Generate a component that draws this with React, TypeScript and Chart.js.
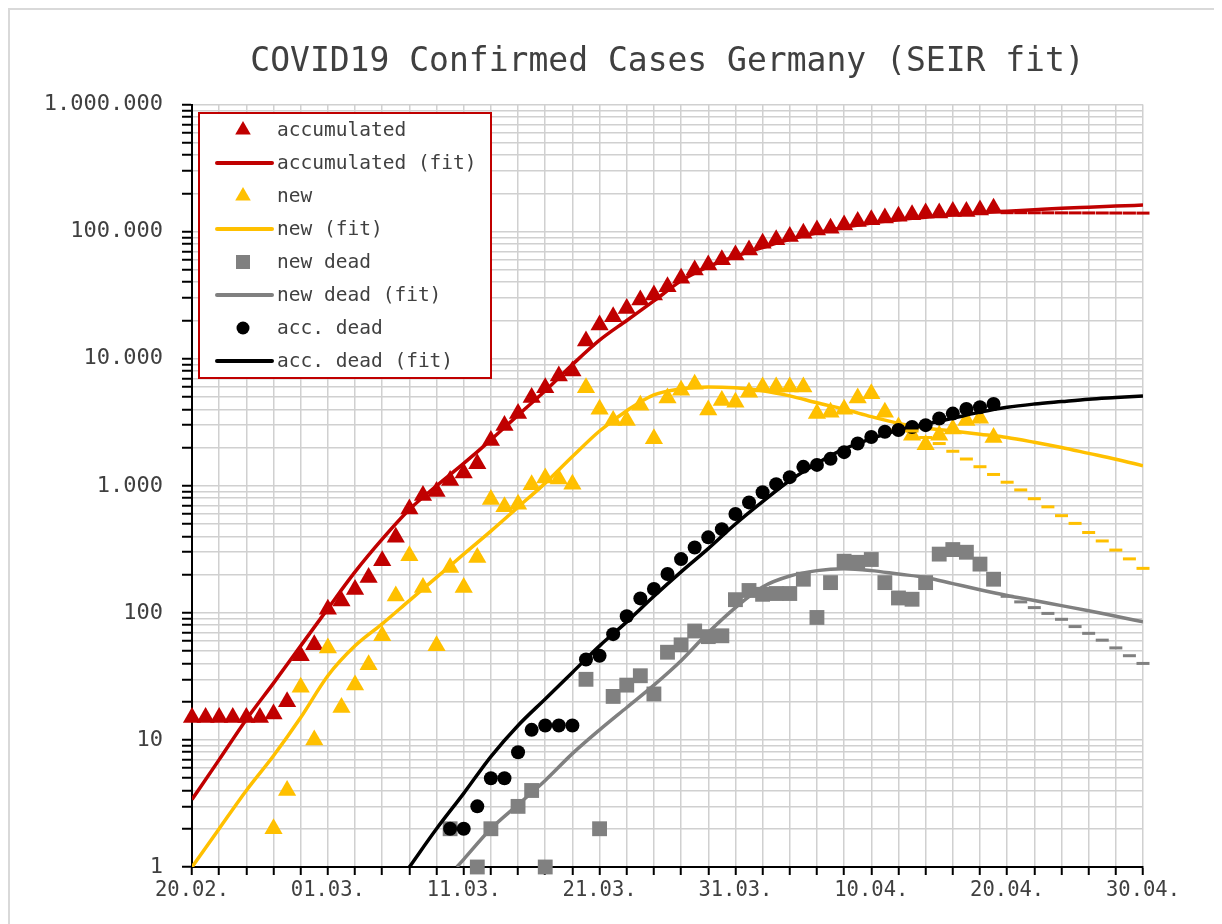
import React, { useEffect, useRef } from 'react';
import { Chart, registerables } from 'chart.js';

Chart.register(...registerables);

const FONT = '"DejaVu Sans Mono", monospace';
const TEXT = '#404040';
const RED = '#c00000';
const YELLOW = '#ffc000';
const GRAY = '#808080';
const BLACK = '#000000';

// ---- axes ----
const xLabelDays = [0, 10, 20, 30, 40, 50, 60, 70];
const xTickLabels = ['20.02.', '01.03.', '11.03.', '21.03.', '31.03.', '10.04.', '20.04.', '30.04.'];
const yDecades = [1, 10, 100, 1000, 10000, 100000, 1000000];
const yTickLabels = ['1', '10', '100', '1.000', '10.000', '100.000', '1.000.000'];
const yMinorMultipliers = [2, 3, 4, 5, 6, 7, 8, 9];

// ---- observed ----
const accDays = [0, 1, 2, 3, 4, 5, 6, 7, 8, 9, 10, 11, 12, 13, 14, 15, 16, 17, 18, 19, 20, 21, 22, 23, 24, 25, 26, 27, 28, 29, 30, 31, 32, 33, 34, 35, 36, 37, 38, 39, 40, 41, 42, 43, 44, 45, 46, 47, 48, 49, 50, 51, 52, 53, 54, 55, 56, 57, 58, 59];
const accValues = [15, 15, 15, 15, 15, 15, 16, 20, 46, 56, 107, 124, 153, 190, 257, 393, 657, 837, 900, 1100, 1260, 1489, 2270, 2980, 3700, 4950, 5900, 7300, 8000, 13800, 18400, 21400, 24900, 29000, 31700, 36900, 43000, 50000, 54700, 60000, 65600, 71800, 81100, 86200, 91600, 97300, 103000, 106600, 113000, 120000, 124000, 128000, 132000, 136000, 140000, 140000, 144000, 144000, 148000, 153000];

const newDays = [6, 7, 8, 9, 10, 11, 12, 13, 14, 15, 16, 17, 18, 19, 20, 21, 22, 23, 24, 25, 26, 27, 28, 29, 30, 31, 32, 33, 34, 35, 36, 37, 38, 39, 40, 41, 42, 43, 44, 45, 46, 47, 48, 49, 50, 51, 52, 53, 54, 55, 56, 57, 58, 59];
const newValues = [2, 4, 26, 10, 53, 18, 27, 39, 66, 136, 281, 158, 55, 228, 158, 273, 780, 685, 715, 1020, 1150, 1130, 1030, 5900, 4000, 3270, 3270, 4300, 2350, 4900, 5650, 6300, 3950, 4700, 4550, 5450, 6000, 6000, 6000, 6000, 3700, 3800, 4000, 4900, 5300, 3800, 2900, 2500, 2100, 2500, 2800, 3270, 3400, 2400];

const newDeadDays = [19, 21, 22, 24, 25, 26, 29, 30, 31, 32, 33, 34, 35, 36, 37, 38, 39, 40, 41, 42, 43, 44, 45, 46, 47, 48, 49, 50, 51, 52, 53, 54, 55, 56, 57, 58, 59];
const newDeadValues = [2, 1, 2, 3, 4, 1, 30, 2, 22, 27, 32, 23, 49, 56, 72, 65, 66, 127, 150, 140, 142, 142, 184, 92, 173, 255, 250, 263, 173, 131, 128, 173, 290, 315, 300, 242, 184];

const accDeadDays = [19, 20, 21, 22, 23, 24, 25, 26, 27, 28, 29, 30, 31, 32, 33, 34, 35, 36, 37, 38, 39, 40, 41, 42, 43, 44, 45, 46, 47, 48, 49, 50, 51, 52, 53, 54, 55, 56, 57, 58, 59];
const accDeadValues = [2, 2, 3, 5, 5, 8, 12, 13, 13, 13, 43, 46, 68, 94, 130, 154, 202, 265, 327, 393, 456, 600, 740, 890, 1030, 1170, 1410, 1460, 1630, 1840, 2150, 2420, 2660, 2750, 2900, 3000, 3390, 3700, 4020, 4150, 4400];

// ---- fits ----
const fitDays = [0, 2, 4, 6, 8, 10, 12, 14, 16, 18, 20, 22, 24, 26, 28, 30, 32, 34, 36, 38, 40, 42, 44, 46, 48, 50, 52, 54, 56, 58, 60, 62, 64, 66, 68, 70];
const accFitValues = [3.4, 7, 14.5, 28, 55, 108, 210, 380, 650, 1000, 1500, 2300, 3600, 5600, 9000, 14000, 20000, 28500, 41000, 53000, 64000, 75000, 87000, 98000, 108000, 117000, 124000, 130000, 136000, 141000, 145000, 149000, 153000, 156000, 159000, 162000];
const newFitValues = [1, 2, 4, 7.5, 15, 32, 55, 82, 125, 190, 290, 440, 680, 1050, 1700, 2700, 3900, 5200, 5800, 6000, 5900, 5600, 5100, 4500, 4000, 3500, 3100, 2850, 2700, 2550, 2400, 2200, 2000, 1800, 1620, 1440];
const accDeadFitDays = [16, 18, 20, 22, 24, 26, 28, 30, 32, 34, 36, 38, 40, 42, 44, 46, 48, 50, 52, 54, 56, 58, 60, 62, 64, 66, 68, 70];
const accDeadFitValues = [1, 2, 3.8, 7.4, 13, 21, 34, 55, 85, 135, 210, 320, 500, 750, 1100, 1500, 1950, 2350, 2750, 3050, 3400, 3800, 4150, 4400, 4600, 4800, 4950, 5100];
const newDeadFitDays = [19.5, 20, 22, 24, 26, 28, 30, 32, 34, 36, 38, 40, 42, 44, 46, 48, 50, 52, 54, 56, 58, 60, 62, 64, 66, 68, 70];
const newDeadFitValues = [1, 1.15, 2, 3.1, 4.8, 7.8, 12, 18, 27, 42, 70, 110, 160, 195, 215, 222, 215, 202, 190, 170, 152, 137, 125, 114, 104, 94, 85];

// ---- forecast dash markers ----
const accDashDays = [60, 61, 62, 63, 64, 65, 66, 67, 68, 69, 70];
const accDashValues = [141000, 141000, 140800, 140700, 140600, 140500, 140400, 140300, 140200, 140100, 140000];
const newDashDays = [53, 54, 55, 56, 57, 58, 59, 60, 61, 62, 63, 64, 65, 66, 67, 68, 69, 70];
const newDashValues = [2700, 2400, 2150, 1870, 1625, 1413, 1228, 1067, 928, 791, 683, 582, 506, 429, 368, 312, 266, 224];
const newDeadDashDays = [60, 61, 62, 63, 64, 65, 66, 67, 68, 69, 70];
const newDeadDashValues = [135, 122, 110, 99, 89, 78, 69, 61, 53, 46, 40];

const pts = (days: number[], vals: number[]) => days.map((d, i) => ({ x: d, y: vals[i] }));

const yTickValues: number[] = [];
yDecades.forEach((d, i) => {
  yTickValues.push(d);
  if (i < yDecades.length - 1) yMinorMultipliers.forEach((m) => yTickValues.push(d * m));
});

function markerDs(label: string, days: number[], vals: number[], color: string, style: string, radius: number) {
  return {
    label,
    data: pts(days, vals),
    showLine: false,
    pointStyle: style,
    pointRadius: radius,
    pointBackgroundColor: color,
    pointBorderColor: color,
    pointBorderWidth: 0,
    borderColor: color,
    backgroundColor: color,
    clip: false as const,
  };
}

function fitDs(label: string, days: number[], vals: number[], color: string) {
  return {
    label,
    data: pts(days, vals),
    borderColor: color,
    backgroundColor: color,
    borderWidth: 3.5,
    pointRadius: 0,
    cubicInterpolationMode: 'monotone' as const,
    fill: false,
  };
}

function dashDs(days: number[], vals: number[], color: string) {
  return {
    label: '',
    data: pts(days, vals),
    showLine: false,
    pointStyle: 'line',
    pointRadius: 6.5,
    pointBorderWidth: 3,
    pointBorderColor: color,
    pointBackgroundColor: color,
    borderColor: color,
    clip: false as const,
  };
}

const legendPlugin = {
  id: 'boxLegend',
  afterDraw(chart: any) {
    const ctx = chart.ctx as CanvasRenderingContext2D;
    const items = chart.data.datasets.filter((d: any) => d.label);
    const L = 189, T = 103, W = 292, H = 265;
    ctx.save();
    ctx.fillStyle = '#ffffff';
    ctx.fillRect(L, T, W, H);
    ctx.lineWidth = 2;
    ctx.strokeStyle = RED;
    ctx.strokeRect(L, T, W, H);
    items.forEach((ds: any, i: number) => {
      const cy = 120 + 33 * i;
      const mx = 233;
      const c = ds.borderColor;
      ctx.fillStyle = c;
      ctx.strokeStyle = c;
      if (ds.showLine === false) {
        ctx.beginPath();
        if (ds.pointStyle === 'triangle') {
          const r = 9;
          ctx.moveTo(mx, cy - r);
          ctx.lineTo(mx + r * 0.866, cy + r / 2);
          ctx.lineTo(mx - r * 0.866, cy + r / 2);
          ctx.closePath();
        } else if (ds.pointStyle === 'rect') {
          ctx.rect(mx - 7, cy - 7, 14, 14);
        } else {
          ctx.arc(mx, cy, 6.5, 0, Math.PI * 2);
        }
        ctx.fill();
      } else {
        ctx.beginPath();
        ctx.lineWidth = 4;
        ctx.lineCap = 'round';
        ctx.moveTo(207, cy);
        ctx.lineTo(262, cy);
        ctx.stroke();
      }
      ctx.fillStyle = TEXT;
      ctx.font = '19.5px ' + FONT;
      ctx.textAlign = 'left';
      ctx.textBaseline = 'middle';
      ctx.fillText(ds.label, 267, cy + 1);
    });
    ctx.restore();
  },
};

export default function App() {
  const ref = useRef<HTMLCanvasElement | null>(null);
  useEffect(() => {
    document.documentElement.style.overflow = 'hidden';
    if (!ref.current) return;
    const datasets: any[] = [
      markerDs('accumulated', accDays, accValues, RED, 'triangle', 10.5),
      fitDs('accumulated (fit)', fitDays, accFitValues, RED),
      markerDs('new', newDays, newValues, YELLOW, 'triangle', 10.5),
      fitDs('new (fit)', fitDays, newFitValues, YELLOW),
      markerDs('new dead', newDeadDays, newDeadValues, GRAY, 'rect', 10.5),
      fitDs('new dead (fit)', newDeadFitDays, newDeadFitValues, GRAY),
      markerDs('acc. dead', accDeadDays, accDeadValues, BLACK, 'circle', 7),
      fitDs('acc. dead (fit)', accDeadFitDays, accDeadFitValues, BLACK),
      dashDs(accDashDays, accDashValues, RED),
      dashDs(newDashDays, newDashValues, YELLOW),
      dashDs(newDeadDashDays, newDeadDashValues, GRAY),
    ];
    datasets.forEach((d, i) => { d.order = 50 - i; });

    const chart = new Chart(ref.current, {
      type: 'line',
      data: { datasets },
      plugins: [legendPlugin],
      options: {
        animation: false,
        responsive: false,
        devicePixelRatio: 1,
        layout: { padding: { right: 63, left: 0, top: 0, bottom: 0 } },
        plugins: {
          legend: { display: false },
          tooltip: { enabled: false },
          title: {
            display: true,
            text: 'COVID19 Confirmed Cases Germany (SEIR fit)',
            color: TEXT,
            fullSize: false,
            font: { family: FONT, size: 33, weight: 'normal' },
            padding: { top: 33, bottom: 22 },
          },
        },
        scales: {
          x: {
            type: 'linear',
            min: 0,
            max: 70,
            afterFit: (s: any) => { s.height = 41; },
            ticks: {
              stepSize: 2,
              autoSkip: false,
              maxRotation: 0,
              padding: 3,
              color: TEXT,
              font: { family: FONT, size: 20.5 },
              callback: (v: any) => {
                const i = xLabelDays.indexOf(Number(v));
                return i >= 0 ? xTickLabels[i] : '';
              },
            },
            grid: { color: '#d0d0d0', lineWidth: 1.5, tickColor: BLACK, tickWidth: 2, tickLength: 8 },
            border: { color: BLACK, width: 2 },
          },
          y: {
            type: 'logarithmic',
            min: 1,
            max: 1000000,
            afterFit: (s: any) => { s.width = 182; },
            afterBuildTicks: (s: any) => {
              s.ticks = yTickValues.map((v) => ({ value: v, major: yDecades.includes(v) }));
            },
            ticks: {
              autoSkip: false,
              padding: 19,
              color: TEXT,
              font: { family: FONT, size: 22 },
              callback: (v: any) => {
                const i = yDecades.indexOf(Number(v));
                return i >= 0 ? yTickLabels[i] : '';
              },
            },
            grid: { color: '#d0d0d0', lineWidth: 1.5, tickColor: BLACK, tickWidth: 2, tickLength: 10 },
            border: { color: BLACK, width: 2 },
          },
        },
      } as any,
    });
    return () => chart.destroy();
  }, []);

  return (
    <div
      style={{
        width: 1240,
        height: 940,
        boxSizing: 'border-box',
        borderTop: '2px solid #d9d9d9',
        borderLeft: '2px solid #d9d9d9',
        background: '#ffffff',
      }}
    >
      <canvas ref={ref} width={1196} height={898} style={{ display: 'block' }} />
    </div>
  );
}
